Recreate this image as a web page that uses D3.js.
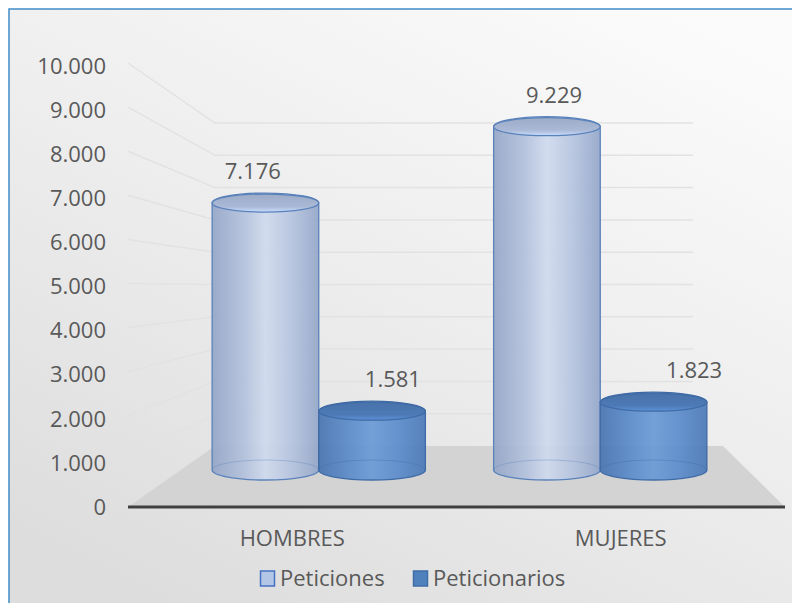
<!DOCTYPE html>
<html>
<head>
<meta charset="utf-8">
<script src="https://cdn.jsdelivr.net/npm/d3@7"></script>
<style>
  html,body{margin:0;padding:0;background:#fff;}
  svg{display:block;font-family:"Open Sans",sans-serif;}
</style>
</head>
<body>
<svg id="chart" width="792" height="603"></svg>
<script>
// ---- data ----
const categories = ["HOMBRES", "MUJERES"];
const series = ["Peticiones", "Peticionarios"];
const peticiones = [7176, 9229];
const peticionarios = [1581, 1823];
const yTicks = [0, 1000, 2000, 3000, 4000, 5000, 6000, 7000, 8000, 9000, 10000];

const values = { "Peticiones": peticiones, "Peticionarios": peticionarios };

// ---- layout ----
const W = 792, H = 603;
const svg = d3.select("#chart");
const locale = d3.formatLocale({decimal: ",", thousands: ".", grouping: [3], currency: ["", ""]});
const fmt = locale.format(",");

// 3D planes
const front = {x0: 128, x1: 785, y0: 507, y1: 66};
const back  = {x0: 215, x1: 723, y0: 446, y1: 123};
const mid   = {x0: 178, x1: 741, y0: 470, y1: 98};

const yFront = d3.scaleLinear().domain([0, 10000]).range([front.y0, front.y1]);
const yBack  = d3.scaleLinear().domain([0, 10000]).range([back.y0, back.y1]);
const yCyl   = d3.scaleLinear().domain([0, 10000]).range([mid.y0, mid.y1]);
const xFront = d3.scaleBand().domain(categories).range([front.x0, front.x1]);
const xMid   = d3.scaleBand().domain(categories).range([mid.x0, mid.x1]);
const xInner = d3.scaleBand().domain(series).range([0, xMid.bandwidth()]).paddingInner(0).paddingOuter(0.32);

const defs = svg.append("defs");

// background
const bg = defs.append("linearGradient").attr("id", "bg")
  .attr("x1", "0.85").attr("y1", "0").attr("x2", "0.2").attr("y2", "1");
bg.append("stop").attr("offset", "0").attr("stop-color", "#fbfbfb");
bg.append("stop").attr("offset", "0.5").attr("stop-color", "#ededed");
bg.append("stop").attr("offset", "1").attr("stop-color", "#dddddd");

svg.append("rect").attr("width", W).attr("height", H).attr("fill", "#fff");
svg.append("rect").attr("x", 9).attr("y", 9).attr("width", W - 9).attr("height", H - 9).attr("fill", "url(#bg)");
// frame
svg.append("path").attr("d", `M9,${H} L9,9 L${W},9`).attr("fill", "none")
  .attr("stroke", "#3f8cc6").attr("stroke-width", 1.5);

// floor
svg.append("path")
  .attr("d", `M${front.x0},${yFront(0)} L${back.x0},${yBack(0)} L${back.x1},${yBack(0)} L${front.x1},${yFront(0)} Z`)
  .attr("fill", "#d3d3d3");

// gridlines (side wall + back wall)
svg.append("g").selectAll("path").data(yTicks.filter(d => d > 0)).join("path")
  .attr("d", d => `M${front.x0},${yFront(d) - 3} L${back.x0},${yBack(d)} L${back.x1 - 30},${yBack(d)}`)
  .attr("fill", "none").attr("stroke", "#e2e2e2").attr("stroke-width", 1.5);

// axis line
svg.append("line").attr("x1", front.x0).attr("x2", front.x1)
  .attr("y1", yFront(0)).attr("y2", yFront(0))
  .attr("stroke", "#404040").attr("stroke-width", 3);

// y labels
svg.append("g").selectAll("text").data(yTicks).join("text")
  .attr("x", 106).attr("y", d => yFront(d)).attr("dy", "0.35em")
  .attr("text-anchor", "end").attr("font-size", 22).attr("fill", "#595959")
  .text(d => fmt(d));

// category labels
svg.append("g").selectAll("text").data(categories).join("text")
  .attr("x", d => xFront(d) + xFront.bandwidth() / 2).attr("y", 538).attr("dy", "0.35em")
  .attr("text-anchor", "middle").attr("font-size", 22).attr("fill", "#595959")
  .text(d => d);

// cylinder gradients
const styles = {
  "Peticiones": {
    body: [["0", "#93a5c7"], ["0.3", "#b3c1dc"], ["0.5", "#cfdaee"], ["0.75", "#b5c3de"], ["1", "#93a6c9"]],
    top: "#a9b9d6", stroke: "#5a82bb", legendFill: "#b4c6e6", legendStroke: "#4472c4", dx: 1
  },
  "Peticionarios": {
    body: [["0", "#4773b0"], ["0.3", "#5b8cca"], ["0.5", "#6a9ad6"], ["0.75", "#5a8bca"], ["1", "#4a78b6"]],
    top: "#4d7ab6", stroke: "#3f6ba6", legendFill: "#4f81bd", legendStroke: "#3e6da8", dx: 27
  }
};
series.forEach((s, i) => {
  const g = defs.append("linearGradient").attr("id", "cyl" + i).attr("x1", 0).attr("x2", 1).attr("y1", 0).attr("y2", 0);
  styles[s].body.forEach(([o, c]) => g.append("stop").attr("offset", o).attr("stop-color", c));
  const t = defs.append("linearGradient").attr("id", "top" + i).attr("x1", 0).attr("x2", 0).attr("y1", 0).attr("y2", 1);
  t.append("stop").attr("offset", "0").attr("stop-color", d3.color(styles[s].top).darker(0.2));
  t.append("stop").attr("offset", "0.7").attr("stop-color", styles[s].top);
  t.append("stop").attr("offset", "1").attr("stop-color", d3.color(styles[s].top).brighter(0.5));
});

const points = [];
categories.forEach((c, ci) => {
  series.forEach((s, si) => {
    points.push({cat: c, ser: s, si: si, v: values[s][ci]});
  });
});

const ry = 10;
const cyl = svg.append("g").selectAll("g").data(points).join("g");
cyl.each(function (d) {
  const g = d3.select(this);
  const w = xInner.bandwidth();
  const rx = w / 2;
  const cx = xMid(d.cat) + xInner(d.ser) + rx;
  const yT = yCyl(d.v), yB = yCyl(0);
  const st = styles[d.ser];
  g.append("path")
    .attr("d", `M${cx - rx},${yB} L${cx - rx},${yT} A${rx},${ry} 0 0 1 ${cx + rx},${yT} L${cx + rx},${yB} A${rx},${ry} 0 0 1 ${cx - rx},${yB} Z`)
    .attr("fill", `url(#cyl${d.si})`).attr("fill-opacity", 0.92)
    .attr("stroke", st.stroke).attr("stroke-width", 1.3);
  // back half of the base, seen through
  g.append("path")
    .attr("d", `M${cx - rx},${yB} A${rx},${ry} 0 0 1 ${cx + rx},${yB}`)
    .attr("fill", "none").attr("stroke", st.stroke).attr("stroke-opacity", 0.35).attr("stroke-width", 1);
  g.append("ellipse").attr("cx", cx).attr("cy", yT).attr("rx", rx).attr("ry", ry - 1)
    .attr("fill", `url(#top${d.si})`).attr("stroke", st.stroke).attr("stroke-width", 1.3);
  // value label
  g.append("text")
    .attr("x", cx + st.dx + 0.07 * (cx - 460)).attr("y", yT - 24)
    .attr("text-anchor", "middle").attr("font-size", 22).attr("fill", "#595959")
    .text(fmt(d.v));
});

// legend
const legendX = [260, 413];
const leg = svg.append("g").selectAll("g").data(series).join("g")
  .attr("transform", (d, i) => `translate(${legendX[i]},578)`);
leg.append("rect").attr("x", 0.5).attr("y", -7).attr("width", 14).attr("height", 15)
  .attr("fill", d => styles[d].legendFill).attr("stroke", d => styles[d].legendStroke).attr("stroke-width", 1.5);
leg.append("text").attr("x", 20).attr("y", 0).attr("dy", "0.35em")
  .attr("font-size", 22).attr("fill", "#595959").text(d => d);
</script>
</body>
</html>
